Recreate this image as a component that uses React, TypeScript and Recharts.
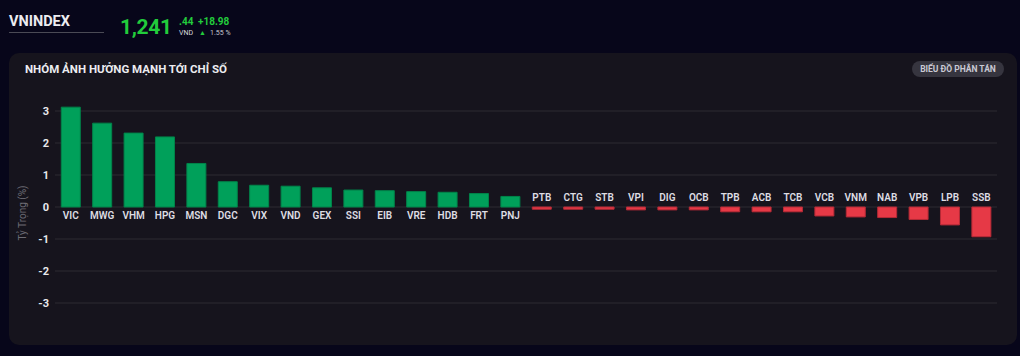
import { Bar, BarChart, CartesianGrid, Cell, LabelList, XAxis, YAxis } from 'recharts'

const symbols = [
  'VIC', 'MWG', 'VHM', 'HPG', 'MSN', 'DGC', 'VIX', 'VND', 'GEX', 'SSI',
  'EIB', 'VRE', 'HDB', 'FRT', 'PNJ', 'PTB', 'CTG', 'STB', 'VPI', 'DIG',
  'OCB', 'TPB', 'ACB', 'TCB', 'VCB', 'VNM', 'NAB', 'VPB', 'LPB', 'SSB',
]

const weights = [
  3.12, 2.62, 2.31, 2.19, 1.36, 0.79, 0.68, 0.65, 0.6, 0.53,
  0.51, 0.48, 0.46, 0.42, 0.33, -0.07, -0.07, -0.07, -0.09, -0.09,
  -0.09, -0.15, -0.15, -0.15, -0.28, -0.31, -0.33, -0.39, -0.56, -0.93,
]

const yTicks = [-3, -2, -1, 0, 1, 2, 3]

const data = symbols.map((name, i) => ({ name, value: weights[i] }))

const GREEN = '#00a05a'
const RED = '#e63946'
const FONT = 'Roboto, "Noto Sans", sans-serif'

const SymbolLabel = (props: any) => {
  const { x, y, width, height, value, index } = props
  const top = Math.min(y, y + height)
  const bottom = Math.max(y, y + height)
  const zeroY = value >= 0 ? bottom : top
  const ty = value >= 0 ? zeroY + 12 : zeroY - 6
  return (
    <text
      x={x + width / 2}
      y={ty}
      textAnchor='middle'
      fill='#dedde3'
      fontSize={10}
      fontWeight={600}
      fontFamily={FONT}
    >
      {symbols[index]}
    </text>
  )
}

export default function App() {
  return (
    <div
      style={{
        position: 'fixed',
        left: 0,
        top: 0,
        width: 1020,
        height: 356,
        background: '#07061a',
        fontFamily: FONT,
        overflow: 'hidden',
      }}
    >
      {/* header */}
      <div style={{ position: 'absolute', left: 9, top: 13, color: '#ececf0', fontSize: 14.5, fontWeight: 700 }}>
        VNINDEX
      </div>
      <div style={{ position: 'absolute', left: 9, top: 32, width: 95, height: 1, background: '#4a4a55' }} />
      <div
        style={{
          position: 'absolute',
          left: 120,
          top: 15,
          color: '#22cc3c',
          fontSize: 21,
          fontWeight: 700,
          letterSpacing: -0.3,
        }}
      >
        1,241
      </div>
      <div style={{ position: 'absolute', left: 179, top: 16, color: '#22cc3c', fontSize: 10, fontWeight: 700 }}>
        .44
      </div>
      <div style={{ position: 'absolute', left: 179, top: 29, color: '#d8d8de', fontSize: 7 }}>VND</div>
      <div style={{ position: 'absolute', left: 198, top: 16, color: '#22cc3c', fontSize: 10, fontWeight: 700 }}>
        +18.98
      </div>
      <div style={{ position: 'absolute', left: 199, top: 29, color: '#22cc3c', fontSize: 7 }}>▲</div>
      <div style={{ position: 'absolute', left: 210, top: 29, color: '#c8c8d0', fontSize: 7 }}>1.55 %</div>

      {/* card */}
      <div
        style={{
          position: 'absolute',
          left: 9,
          top: 53,
          width: 1008,
          height: 292,
          background: '#16141d',
          borderRadius: 10,
        }}
      />
      <div
        style={{
          position: 'absolute',
          left: 25,
          top: 62,
          color: '#ececf0',
          fontSize: 11.5,
          fontWeight: 700,
        }}
      >
        NHÓM ẢNH HƯỞNG MẠNH TỚI CHỈ SỐ
      </div>
      <div
        style={{
          position: 'absolute',
          left: 912,
          top: 61,
          width: 92,
          height: 16,
          borderRadius: 8,
          background: '#36353f',
          color: '#c9c9d4',
          fontSize: 8.5,
          fontWeight: 700,
          lineHeight: '16px',
          textAlign: 'center',
        }}
      >
        BIỂU ĐỒ PHÂN TÁN
      </div>
      <div
        style={{
          position: 'absolute',
          left: 22,
          top: 213,
          transform: 'translate(-50%, -50%) rotate(-90deg)',
          color: '#6c6b74',
          fontSize: 10,
          whiteSpace: 'nowrap',
        }}
      >
        Tỷ Trọng (%)
      </div>

      <div style={{ position: 'absolute', left: 0, top: 0 }}>
        <BarChart
          width={1020}
          height={356}
          data={data}
          margin={{ top: 95, right: 23, bottom: 37, left: 15 }}
          barCategoryGap='20%'
        >
          <CartesianGrid vertical={false} stroke='#2c2a33' horizontalValues={yTicks} />
          <XAxis dataKey='name' hide />
          <YAxis
            width={40}
            domain={[-3.5, 3.5]}
            ticks={yTicks}
            tickLine={false}
            axisLine={false}
            tickMargin={0}
            tick={{ fill: '#e8e8ec', fontSize: 11, fontWeight: 700, fontFamily: FONT }}
          />
          <Bar dataKey='value' isAnimationActive={false}>
            {data.map((d) => (
              <Cell
                key={d.name}
                fill={d.value >= 0 ? GREEN : RED}
                stroke={d.value >= 0 ? '#01844a' : '#b52a36'}
                strokeWidth={1}
              />
            ))}
            <LabelList dataKey='value' content={SymbolLabel} />
          </Bar>
        </BarChart>
      </div>
    </div>
  )
}
